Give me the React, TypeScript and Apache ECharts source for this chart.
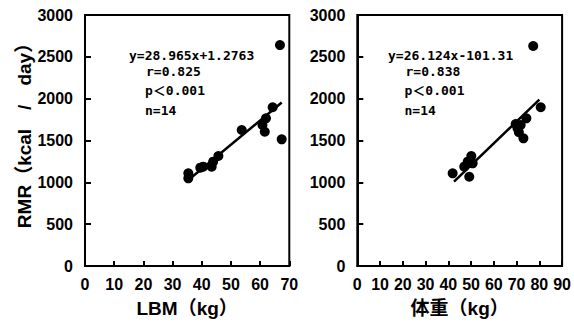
import React, { useEffect, useRef } from "react";
import * as echarts from "echarts";

// Left panel: LBM (kg) vs RMR (kcal/day)
const lbmX = [66.8, 67.4, 64.3, 62.0, 60.8, 61.6, 53.7, 45.7, 43.9, 43.4, 40.5, 39.5, 35.4, 35.4];
const lbmRmr = [2640, 1514, 1897, 1765, 1685, 1605, 1625, 1315, 1247, 1187, 1187, 1175, 1108, 1048];
// Right panel: body weight (kg) vs RMR
const weightX = [77.3, 80.6, 74.3, 71.8, 70.4, 69.6, 73.0, 71.0, 50.1, 48.5, 47.0, 50.7, 41.9, 49.2];
const weightRmr = [2629, 1897, 1765, 1685, 1645, 1697, 1526, 1600, 1315, 1247, 1187, 1227, 1108, 1067];

// Regression fits: [slope, intercept], drawn over [from, to]
const fitLeft = [28.965, 1.2763];
const fitLeftRange = [35.0, 67.4];
const fitRight = [26.124, -101.31];
const fitRightRange = [42.5, 80.0];

const statsLeft = ["y=28.965x+1.2763", "r=0.825", "p＜0.001", "n=14"];
const statsRight = ["y=26.124x-101.31", "r=0.838", "p＜0.001", "n=14"];

const xNameLeft = "LBM（kg）";
const xNameRight = "体重（kg）";
const yName = "RMR（kcal　/　day）";

const tickFont = '"Liberation Sans", "Noto Sans CJK JP", sans-serif';
const annoFont = '"DejaVu Sans Mono", "Noto Sans CJK JP", monospace';

export default function App() {
  const ref = useRef<HTMLDivElement>(null);
  useEffect(() => {
    if (!ref.current) return;
    const chart = echarts.init(ref.current, null, { renderer: "svg" });
    const pairs = (xs: number[], ys: number[]) => xs.map((x, i) => [x, ys[i]]);
    const fitLine = (f: number[], r: number[]) => r.map((x) => [x, f[0] * x + f[1]]);
    const plain = (v: number) => String(v);

    const mkX = (gi: number, max: number, name: string) => ({
      type: "value",
      gridIndex: gi,
      min: 0,
      max,
      interval: 10,
      axisLine: { show: true, lineStyle: { color: "#000", width: 2 } },
      axisTick: { show: true, inside: true, length: 5, lineStyle: { color: "#000", width: 2 } },
      axisLabel: { color: "#000", fontSize: 16, fontWeight: "bold", fontFamily: tickFont, margin: 10, formatter: plain },
      splitLine: { show: false },
      name,
      nameLocation: "middle",
      nameGap: 33,
      nameTextStyle: { color: "#000", fontSize: 19, fontWeight: "bold", fontFamily: tickFont },
    });
    const mkY = (gi: number) => ({
      type: "value",
      gridIndex: gi,
      min: 0,
      max: 3000,
      interval: 500,
      axisLine: { show: true, lineStyle: { color: "#000", width: 2 } },
      axisTick: { show: true, inside: true, length: 6, lineStyle: { color: "#000", width: 2 } },
      axisLabel: { color: "#000", fontSize: 16, fontWeight: "bold", fontFamily: tickFont, margin: 12, formatter: plain },
      splitLine: { show: false },
    });

    const annoLines = (lines: string[], xs: number[], ys: number[]) =>
      lines.map((t, i) => ({
        type: "text",
        x: xs[i],
        y: ys[i],
        style: { text: t, font: `bold 13px ${annoFont}`, fill: "#000", verticalAlign: "middle" },
      }));
    const annoY = [55, 71, 90, 110];

    chart.setOption({
      animation: false,
      backgroundColor: "#fff",
      grid: [
        { left: 85, right: 284.7, top: 15, bottom: 58, show: true, borderColor: "#000", borderWidth: 2 },
        { left: 357.3, right: 10.7, top: 15, bottom: 58, show: true, borderColor: "#000", borderWidth: 2 },
      ],
      xAxis: [mkX(0, 70, xNameLeft), mkX(1, 90, xNameRight)],
      yAxis: [mkY(0), mkY(1)],
      series: [
        {
          type: "scatter",
          xAxisIndex: 0,
          yAxisIndex: 0,
          data: pairs(lbmX, lbmRmr),
          symbolSize: 10,
          itemStyle: { color: "#000", opacity: 1 },
        },
        {
          type: "line",
          xAxisIndex: 0,
          yAxisIndex: 0,
          data: fitLine(fitLeft, fitLeftRange),
          showSymbol: false,
          lineStyle: { color: "#000", width: 2.5 },
        },
        {
          type: "scatter",
          xAxisIndex: 1,
          yAxisIndex: 1,
          data: pairs(weightX, weightRmr),
          symbolSize: 10,
          itemStyle: { color: "#000", opacity: 1 },
        },
        {
          type: "line",
          xAxisIndex: 1,
          yAxisIndex: 1,
          data: fitLine(fitRight, fitRightRange),
          showSymbol: false,
          lineStyle: { color: "#000", width: 2.5 },
        },
      ],
      graphic: [
        {
          type: "text",
          x: 24,
          y: 131,
          rotation: Math.PI / 2,
          style: {
            text: yName,
            font: `bold 19px ${tickFont}`,
            fill: "#000",
            align: "center",
            verticalAlign: "middle",
          },
        },
        ...annoLines(statsLeft, [129, 146, 145, 145], annoY),
        ...annoLines(statsRight, [388, 405.5, 404.5, 404.5], annoY),
      ],
    });
    return () => chart.dispose();
  }, []);
  return (
    <div
      ref={ref}
      style={{ position: "fixed", left: 0, top: 0, width: 574, height: 324, background: "#fff" }}
    />
  );
}
